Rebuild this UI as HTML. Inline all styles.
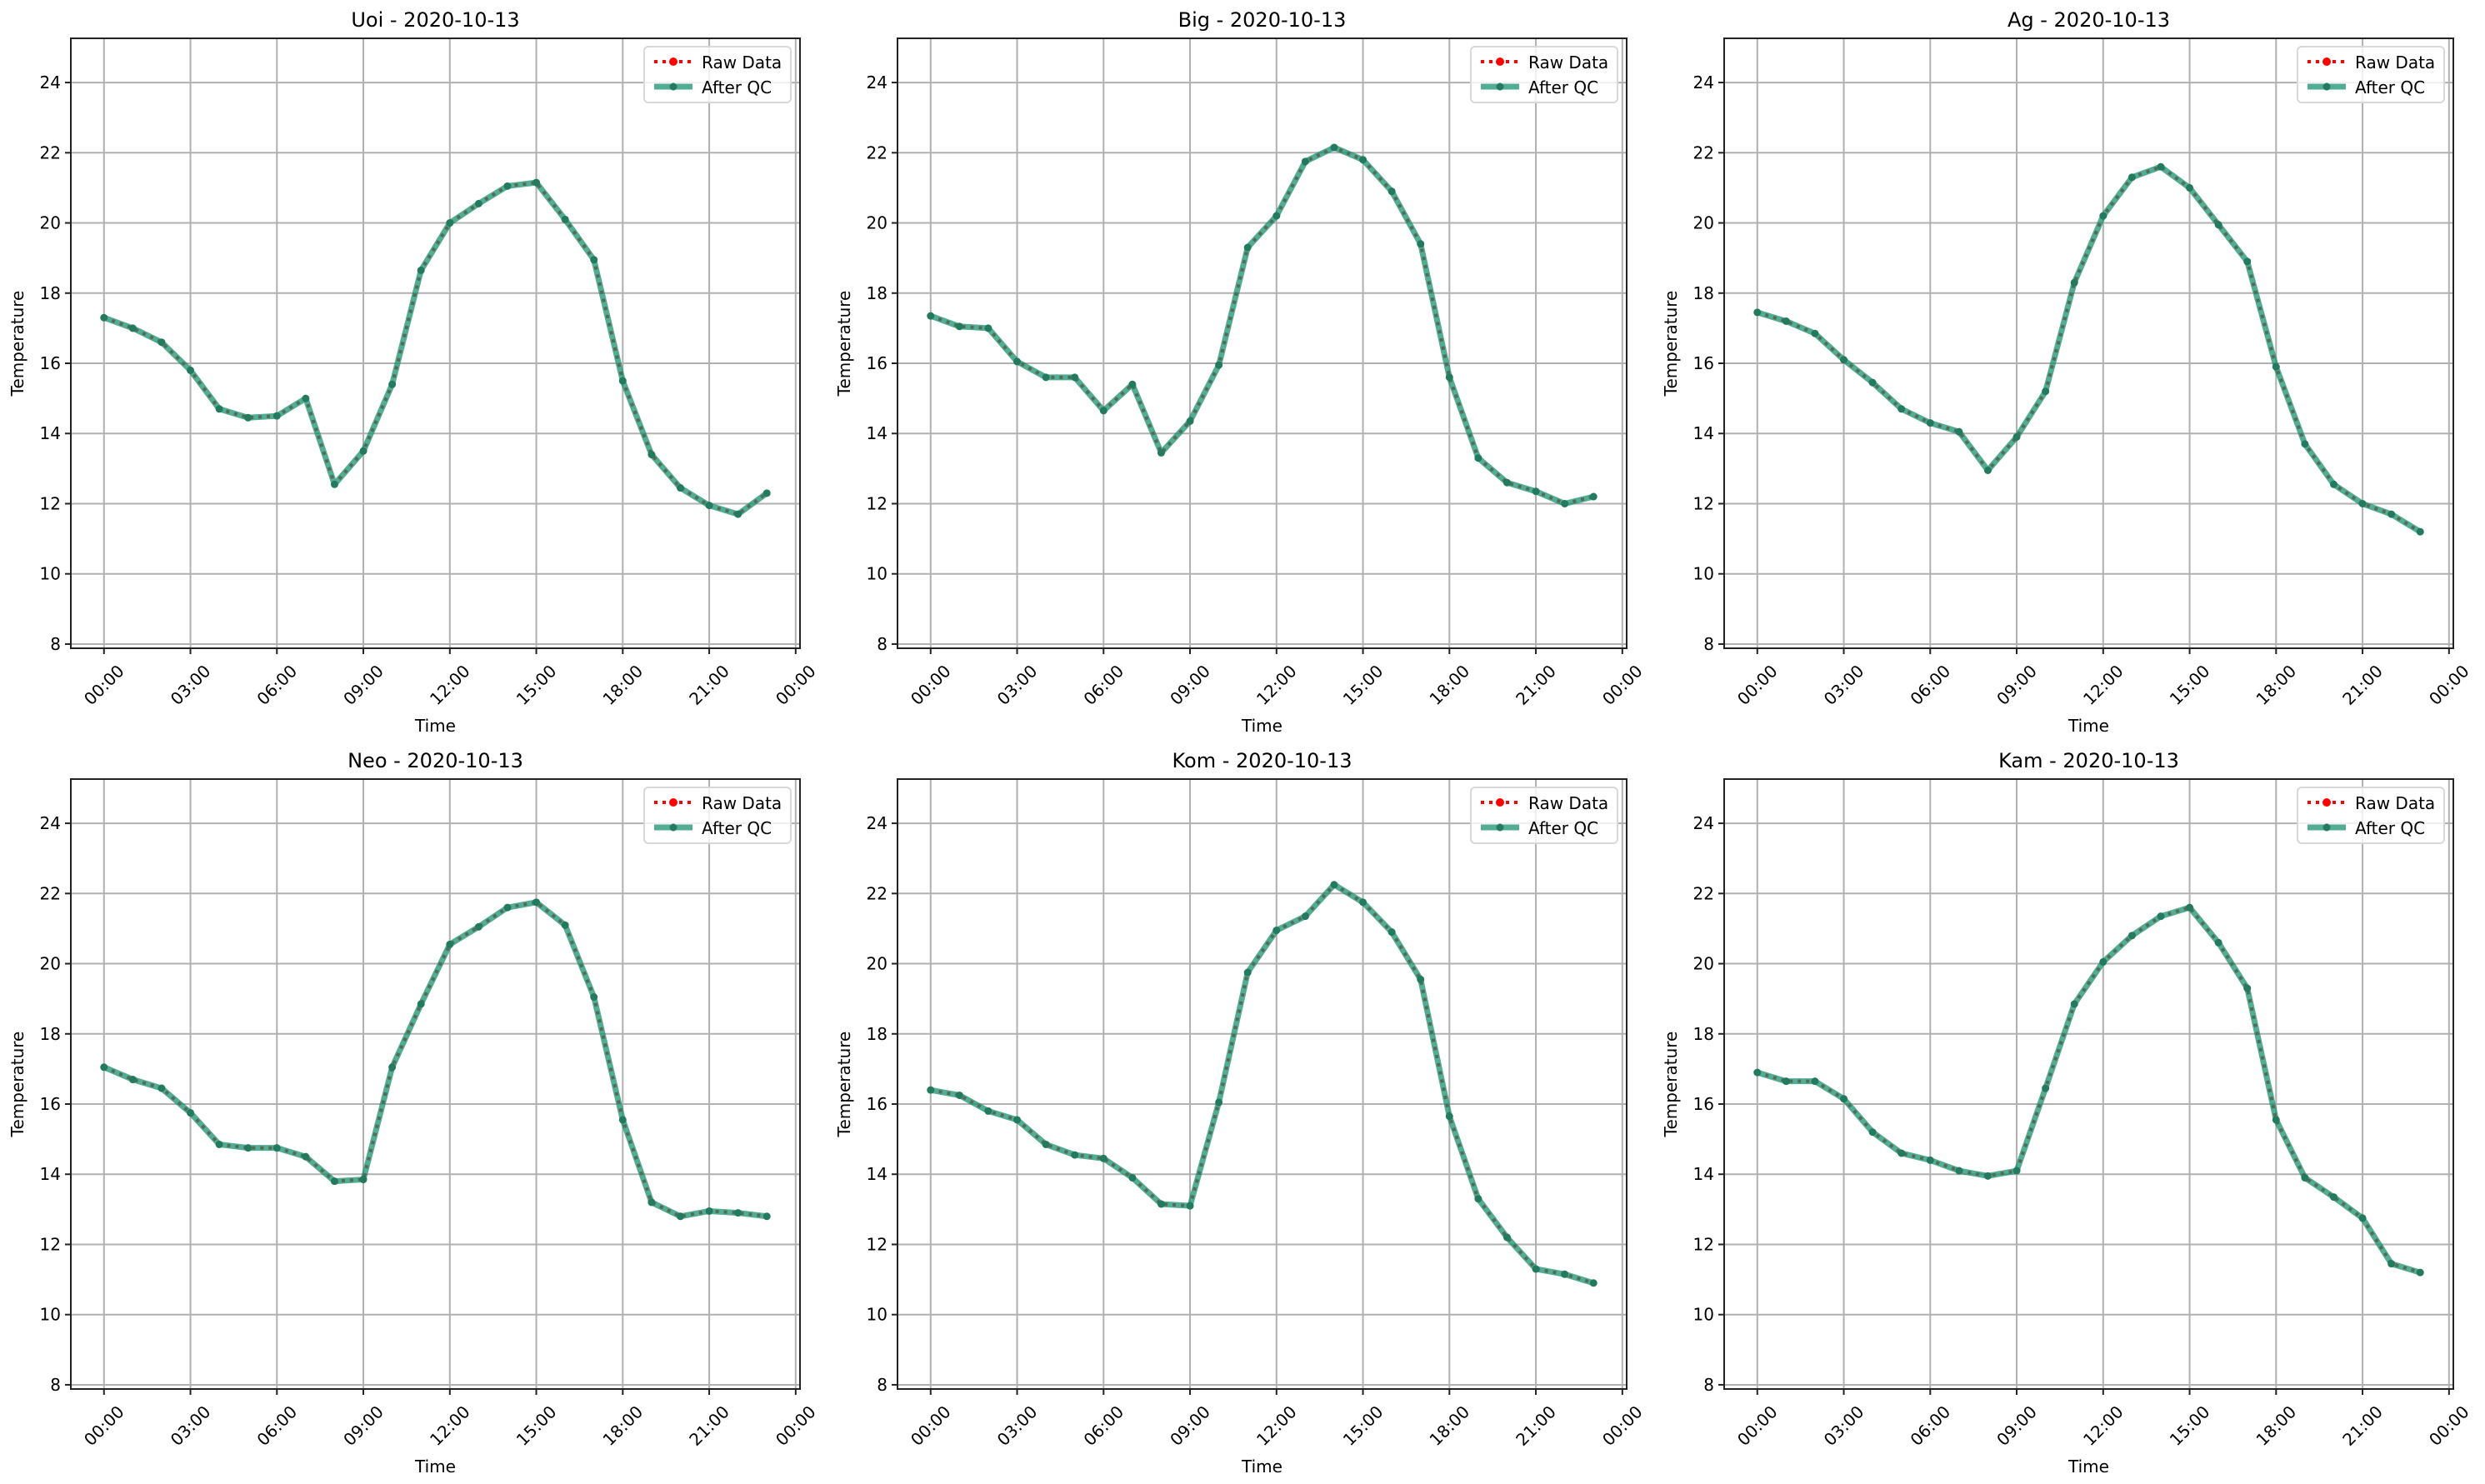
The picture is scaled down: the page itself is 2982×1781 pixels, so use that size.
<!DOCTYPE html>
<html><head><meta charset="utf-8"><style>
html,body{margin:0;padding:0;background:#fff;}
svg{display:block;font-family:"DejaVu Sans","Liberation Sans",sans-serif;}
</style></head><body>
<svg id="fig" width="2982" height="1781" viewBox="0 0 2982 1781" xmlns="http://www.w3.org/2000/svg"></svg>
<script>
const stations = ["Uoi","Big","Ag","Neo","Kom","Kam"];
const dateLabel = "2020-10-13";
const hours = [0,1,2,3,4,5,6,7,8,9,10,11,12,13,14,15,16,17,18,19,20,21,22,23];
const xTickHours = [0,3,6,9,12,15,18,21,24];
const xTickLabels = ["00:00","03:00","06:00","09:00","12:00","15:00","18:00","21:00","00:00"];
const yTicks = [8,10,12,14,16,18,20,22,24];
const seriesUoi = [17.3,17.0,16.6,15.8,14.7,14.45,14.5,15.0,12.55,13.5,15.4,18.65,20.0,20.55,21.05,21.15,20.1,18.95,15.5,13.4,12.45,11.95,11.7,12.3];
const seriesBig = [17.35,17.05,17.0,16.05,15.6,15.6,14.65,15.4,13.45,14.35,15.95,19.3,20.2,21.75,22.15,21.8,20.9,19.4,15.6,13.3,12.6,12.35,12.0,12.2];
const seriesAg = [17.45,17.2,16.85,16.1,15.45,14.7,14.3,14.05,12.95,13.9,15.2,18.3,20.2,21.3,21.6,21.0,19.95,18.9,15.9,13.7,12.55,12.0,11.7,11.2];
const seriesNeo = [17.05,16.7,16.45,15.75,14.85,14.75,14.75,14.5,13.8,13.85,17.05,18.85,20.55,21.05,21.6,21.75,21.1,19.05,15.55,13.2,12.8,12.95,12.9,12.8];
const seriesKom = [16.4,16.25,15.8,15.55,14.85,14.55,14.45,13.9,13.15,13.1,16.05,19.75,20.95,21.35,22.25,21.75,20.9,19.55,15.65,13.3,12.2,11.3,11.15,10.9];
const seriesKam = [16.9,16.65,16.65,16.15,15.2,14.6,14.4,14.1,13.95,14.1,16.45,18.85,20.05,20.8,21.35,21.6,20.6,19.3,15.55,13.9,13.35,12.75,11.45,11.2];
const allSeries = [seriesUoi,seriesBig,seriesAg,seriesNeo,seriesKom,seriesKam];

const NS="http://www.w3.org/2000/svg";
const fig=document.getElementById('fig');
function mk(tag,attrs,parent){const e=document.createElementNS(NS,tag);for(const k in attrs)e.setAttribute(k,attrs[k]);(parent||fig).appendChild(e);return e;}

const W=875, H=732, X0=85, Y0=46, DX=992, DY=889;
const xMin=-1.15, xMax=24.15, yMin=7.88, yMax=25.26;

stations.forEach((name,i)=>{
  const col=i%3, row=Math.floor(i/3);
  const L=X0+col*DX, T=Y0+row*DY, R=L+W, B=T+H;
  const sx=h=>L+(h-xMin)/(xMax-xMin)*W;
  const sy=v=>B-(v-yMin)/(yMax-yMin)*H;
  const g=mk('g',{});
  
  
  xTickHours.forEach((h,k)=>{
    const ln=mk('line',{x1:sx(h),x2:sx(h),y1:T,y2:B,stroke:'#b0b0b0','stroke-width':2},g);
    
    
    const tk=mk('line',{x1:sx(h),x2:sx(h),y1:B,y2:B+7,stroke:'#222','stroke-width':2},g);
    
    
    const cx=sx(h), cy=B+44;
    const t=mk('text',{x:cx,y:cy+7,'text-anchor':'middle','font-size':20,fill:'#000',transform:`rotate(-45 ${cx} ${cy})`},g);
    t.textContent=xTickLabels[k];
    
    
  });
  yTicks.forEach(v=>{
    const ln=mk('line',{x1:L,x2:R,y1:sy(v),y2:sy(v),stroke:'#b0b0b0','stroke-width':2},g);
    
    
    const tk=mk('line',{x1:L-7,x2:L,y1:sy(v),y2:sy(v),stroke:'#222','stroke-width':2},g);
    
    
    const t=mk('text',{x:L-12,y:sy(v)+7,'text-anchor':'end','font-size':20,fill:'#000'},g);
    t.textContent=v;
    
    
  });
  const data=allSeries[i];
  const pts=hours.map((h,k)=>sx(h)+','+sy(data[k])).join(' ');
  const raw=mk('polyline',{points:pts,fill:'none',stroke:'#ff0000','stroke-width':4,'stroke-dasharray':'4 6'},g);
  
  
  const qc=mk('polyline',{points:pts,fill:'none',stroke:'#1a9070','stroke-opacity':0.75,'stroke-width':7,'stroke-linejoin':'round'},g);
  
  
  hours.forEach((h,k)=>{
    const c=mk('circle',{cx:sx(h),cy:sy(data[k]),r:4.5,fill:'#237a5e'},g);
    
    
  });
  const fr=mk('rect',{x:L,y:T,width:W,height:H,fill:'none',stroke:'#222','stroke-width':2},g);
  
  
  const tt=mk('text',{x:(L+R)/2,y:T-14,'text-anchor':'middle','font-size':24,fill:'#000'},g);
  tt.textContent=name+' - '+dateLabel;
  
  
  const xl=mk('text',{x:(L+R)/2,y:B+100,'text-anchor':'middle','font-size':20,fill:'#000'},g);
  xl.textContent='Time';
  
  
  const yx=L-57, yy=(T+B)/2;
  const yl=mk('text',{x:yx,y:yy,'text-anchor':'middle','font-size':20,fill:'#000',transform:`rotate(-90 ${yx} ${yy})`},g);
  yl.textContent='Temperature';
  
  
  const lg=mk('g',{},g);
  
  
  const lx=L+688, ly=T+10;
  mk('rect',{x:lx,y:ly,width:176,height:67,rx:5,fill:'#fff','fill-opacity':0.8,stroke:'#d8d8d8','stroke-width':2},lg);
  mk('line',{x1:lx+12,x2:lx+58,y1:ly+18,y2:ly+18,stroke:'#ff0000','stroke-width':4,'stroke-dasharray':'4 6'},lg);
  mk('circle',{cx:lx+35,cy:ly+18,r:5,fill:'#ff0000'},lg);
  const t1=mk('text',{x:lx+69,y:ly+26,'font-size':20,fill:'#000'},lg);
  t1.textContent='Raw Data';
  
  
  mk('line',{x1:lx+12,x2:lx+58,y1:ly+48,y2:ly+48,stroke:'#1a9070','stroke-opacity':0.75,'stroke-width':7},lg);
  mk('circle',{cx:lx+35,cy:ly+48,r:4.5,fill:'#237a5e'},lg);
  const t2=mk('text',{x:lx+69,y:ly+56,'font-size':20,fill:'#000'},lg);
  t2.textContent='After QC';
  
  
});
</script>
</body></html>
